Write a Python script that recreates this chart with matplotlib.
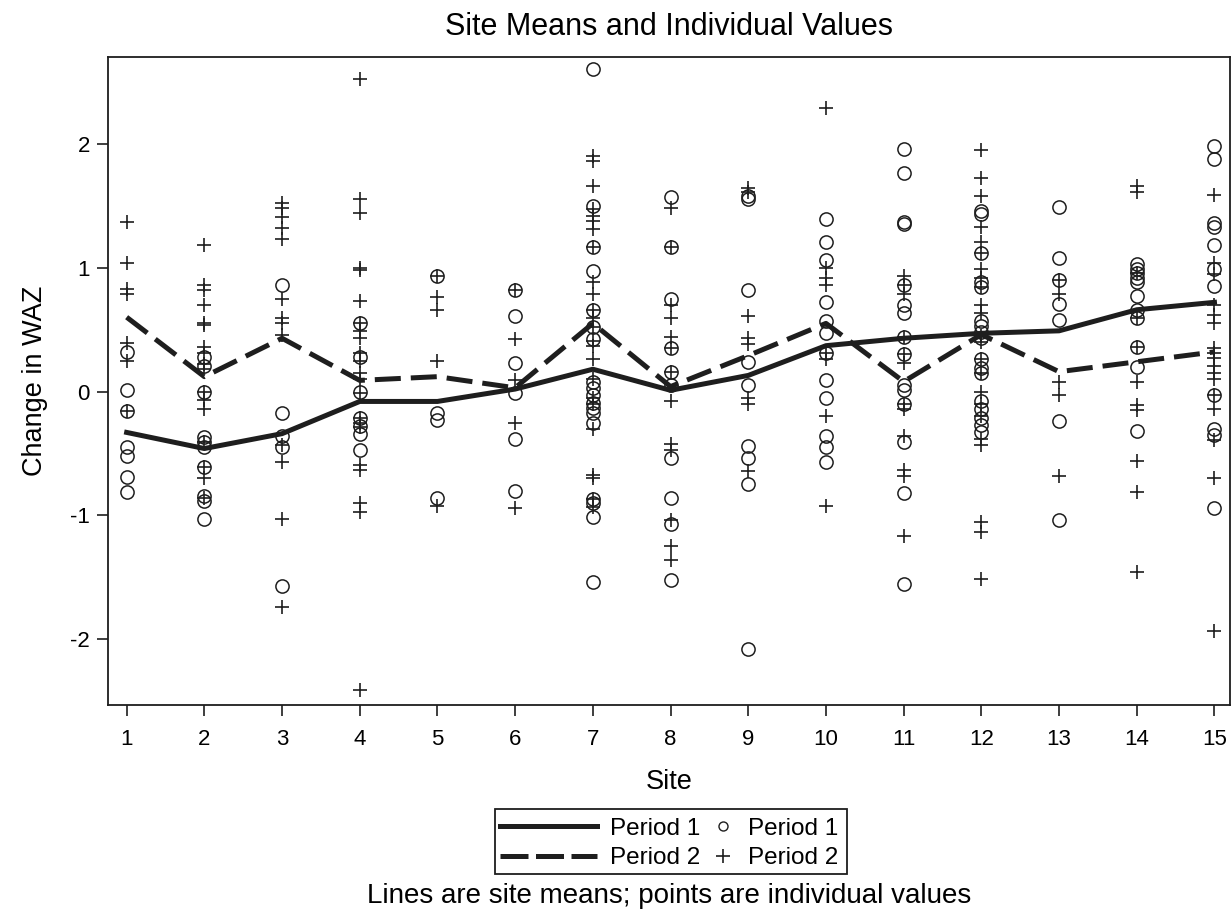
import matplotlib
matplotlib.use("Agg")
import matplotlib.pyplot as plt
from matplotlib.lines import Line2D
from matplotlib.patches import Rectangle

plt.rcParams['font.family'] = ['Liberation Sans', 'DejaVu Sans']
plt.rcParams['axes.unicode_minus'] = False

sites = list(range(1, 16))

# site means (lines)
mean_p1 = [-0.33, -0.46, -0.34, -0.08, -0.08, 0.02, 0.18, 0.01, 0.13, 0.37, 0.43, 0.47, 0.49, 0.66, 0.72]
mean_p2 = [0.60, 0.12, 0.43, 0.09, 0.12, 0.03, 0.55, 0.04, 0.29, 0.55, 0.08, 0.46, 0.16, 0.24, 0.32]

# individual values, period 1 (circles)
p1_vals = [
    [0.32, 0.01, -0.16, -0.45, -0.52, -0.69, -0.81],
    [0.28, 0.21, 0.0, -0.37, -0.41, -0.45, -0.61, -0.84, -0.88, -1.03],
    [0.86, -0.17, -0.36, -0.45, -1.57],
    [0.55, 0.28, 0.0, -0.21, -0.28, -0.34, -0.47],
    [0.93, -0.17, -0.23, -0.86],
    [0.82, 0.61, 0.23, -0.01, -0.38, -0.80],
    [2.60, 1.50, 1.17, 0.97, 0.66, 0.52, 0.42, 0.08, 0.03, -0.03, -0.09, -0.13, -0.17, -0.25, -0.87, -0.90, -1.01, -1.54],
    [1.57, 1.17, 0.75, 0.35, 0.16, 0.05, -0.54, -0.86, -1.07, -1.52],
    [1.58, 1.55, 0.82, 0.24, 0.05, -0.44, -0.54, -0.75, -2.08],
    [1.39, 1.21, 1.06, 0.72, 0.57, 0.47, 0.31, 0.09, -0.05, -0.36, -0.45, -0.57],
    [1.96, 1.76, 1.37, 1.35, 0.86, 0.70, 0.63, 0.44, 0.30, 0.05, 0.01, -0.10, -0.41, -0.82, -1.55],
    [1.46, 1.43, 1.12, 0.88, 0.84, 0.57, 0.53, 0.48, 0.43, 0.26, 0.19, 0.15, -0.08, -0.14, -0.21, -0.27, -0.33],
    [1.49, 1.08, 0.90, 0.71, 0.58, -0.24, -1.04],
    [1.03, 0.99, 0.96, 0.92, 0.88, 0.77, 0.66, 0.59, 0.36, 0.20, -0.32],
    [1.98, 1.88, 1.36, 1.33, 1.18, 0.99, 0.85, -0.03, -0.30, -0.35, -0.94],
]

# individual values, period 2 (plus signs)
p2_vals = [
    [1.37, 1.04, 0.83, 0.79, 0.39, 0.25, -0.16],
    [1.18, 0.86, 0.82, 0.70, 0.55, 0.54, 0.36, 0.31, 0.22, 0.18, 0.0, -0.07, -0.14, -0.41, -0.61, -0.70, -0.86],
    [1.52, 1.48, 1.41, 1.32, 1.23, 0.75, 0.59, 0.55, 0.46, -0.43, -0.57, -1.03, -1.74],
    [2.52, 1.55, 1.44, 1.0, 0.98, 0.73, 0.55, 0.49, 0.43, 0.31, 0.25, 0.15, 0.10, -0.01, -0.21, -0.25, -0.29, -0.59, -0.63, -0.90, -0.97, -2.41],
    [0.93, 0.76, 0.66, 0.25, -0.92],
    [0.82, 0.42, 0.09, -0.25, -0.94],
    [1.90, 1.86, 1.66, 1.47, 1.42, 1.38, 1.31, 1.17, 0.88, 0.79, 0.66, 0.59, 0.52, 0.41, 0.37, 0.26, 0.10, -0.05, -0.10, -0.30, -0.67, -0.70, -0.87, -0.93],
    [1.48, 1.17, 0.70, 0.59, 0.44, 0.35, 0.16, -0.08, -0.42, -0.47, -1.04, -1.25, -1.36],
    [1.64, 1.61, 0.61, 0.43, 0.38, -0.05, -0.10, -0.64],
    [2.29, 1.0, 0.92, 0.86, 0.31, 0.26, -0.20, -0.92],
    [0.93, 0.86, 0.79, 0.44, 0.30, 0.23, -0.10, -0.14, -0.36, -0.63, -0.68, -1.17],
    [1.95, 1.72, 1.58, 1.33, 1.21, 1.12, 0.99, 0.92, 0.84, 0.70, 0.63, 0.45, 0.40, 0.26, 0.15, 0.0, -0.10, -0.20, -0.38, -0.43, -1.05, -1.13, -1.51],
    [0.90, 0.79, 0.08, -0.03, -0.68],
    [1.66, 1.61, 0.96, 0.59, 0.36, 0.08, -0.11, -0.15, -0.56, -0.81, -1.46],
    [1.59, 1.04, 0.95, 0.70, 0.62, 0.55, 0.35, 0.31, 0.27, 0.21, 0.15, 0.10, -0.03, -0.14, -0.39, -0.70, -1.93],
]

ink = '#1e1e1e'
W, H = 1232, 915

fig = plt.figure(figsize=(12.32, 9.15), dpi=100)
ax = fig.add_axes([108 / W, 1 - 705 / H, (1230 - 108) / W, (705 - 57) / H])
xc = 669 / W  # horizontal centre of the plot area

# individual values
for s, vals in zip(sites, p1_vals):
    ax.plot([s] * len(vals), vals, linestyle='none', marker='o', markersize=9.5,
            markerfacecolor='none', markeredgecolor=ink, markeredgewidth=1.1)
for s, vals in zip(sites, p2_vals):
    ax.plot([s] * len(vals), vals, linestyle='none', marker='+', markersize=10,
            markeredgecolor=ink, markeredgewidth=1.2)

# site means
ax.plot(sites, mean_p1, color=ink, linewidth=3.6)
ax.plot(sites, mean_p2, color=ink, linewidth=3.6, dashes=(5.2, 2.0))

ax.set_xlim(0.76, 15.2)
ax.set_ylim(-2.53, 2.70)
ax.set_xticks(sites)
ax.set_yticks([-2, -1, 0, 1, 2])
ax.tick_params(direction='out', length=8, width=1.2, labelsize=16, color=ink)
ax.tick_params(axis='x', pad=9)
ax.tick_params(axis='y', pad=5)
for sp in ax.spines.values():
    sp.set_linewidth(1.3)
    sp.set_color(ink)

ax.set_xlabel('Site', fontsize=19.5)
ax.xaxis.label.set_va('center')
ax.xaxis.set_label_coords(0.5, -(782 - 705) / 648)
ax.set_ylabel('Change in WAZ', fontsize=19.5)
ax.yaxis.label.set_va('center')
ax.yaxis.set_label_coords(-(108 - 35) / 1122, 0.5)

fig.text(xc, 1 - 27 / H, 'Site Means and Individual Values', ha='center', va='center',
         fontsize=22)
fig.text(xc, 1 - 896 / H, 'Lines are site means; points are individual values',
         ha='center', va='center', fontsize=20)

# legend: lines on the left, markers on the right, one frame around both
legend_y = 1 - 843.5 / H
line_handles = [
    Line2D([], [], color=ink, linewidth=3.6),
    Line2D([], [], color=ink, linewidth=3.6, dashes=(5.6, 1.5)),
]
mark_handles = [
    Line2D([], [], linestyle='none', marker='o', markersize=6.5, markerfacecolor='none',
           markeredgecolor=ink, markeredgewidth=1.0),
    Line2D([], [], linestyle='none', marker='+', markersize=10, markeredgecolor=ink,
           markeredgewidth=1.2),
]
legend_labels = ['Period 1', 'Period 2']
common = dict(frameon=False, fontsize=17.5, borderpad=0, borderaxespad=0,
              labelspacing=0.3, handletextpad=0.53, loc='center left')
leg1 = fig.legend(line_handles, legend_labels, handlelength=4.0,
                  bbox_to_anchor=(500 / W, legend_y), **common)
leg2 = fig.legend(mark_handles, legend_labels, handlelength=1.0,
                  bbox_to_anchor=(711 / W, legend_y), **common)
fig.add_artist(Rectangle((495 / W, 1 - 874 / H), (847 - 495) / W, (874 - 809) / H,
                         transform=fig.transFigure, fill=False, edgecolor=ink,
                         linewidth=1.3))

fig.savefig('out.png', dpi=100)
